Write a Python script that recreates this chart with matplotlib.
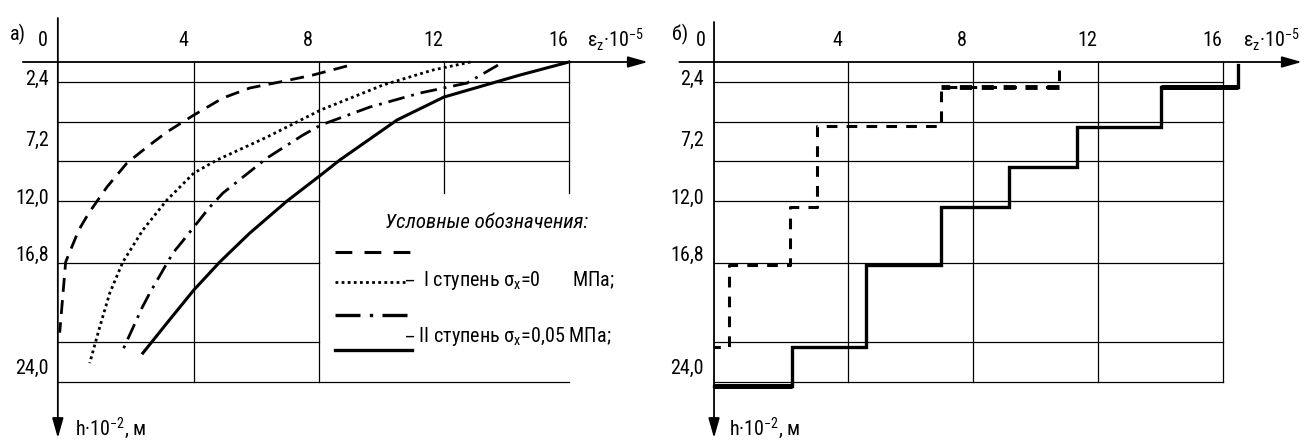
import matplotlib
matplotlib.use('Agg')
import matplotlib.pyplot as plt
from matplotlib import font_manager

# шрифт: узкий, если есть
_names = {f.name for f in font_manager.fontManager.ttflist}
_cond = {f.name for f in font_manager.fontManager.ttflist
         if f.stretch in ('condensed', 'semi-condensed', 550, 600, 625, 650, 700)}
FONT = 'DejaVu Sans'
for cand in ['Liberation Sans Narrow', 'Roboto Condensed', 'Open Sans Condensed',
             'Noto Sans Condensed', 'DejaVu Sans Condensed']:
    if cand in _names:
        FONT = cand
        break
plt.rcParams['font.family'] = [FONT, 'DejaVu Sans']
if FONT == 'DejaVu Sans' and 'DejaVu Sans' in _cond:
    plt.rcParams['font.stretch'] = 'condensed'
plt.rcParams['mathtext.default'] = 'regular'

# ---- данные ----
x_ticks = [0, 4, 8, 12, 16]
h_tick_pos = [1.3, 5.85, 10.2, 14.5, 23.0]
h_tick_lab = ['2,4', '7,2', '12,0', '16,8', '24,0']
h_grid = [1.5, 4.5, 7.45, 10.4, 15.05, 21.0, 24.0]

# а) кривые
h_dash = [0.3, 0.98, 1.5, 1.95, 2.7, 3.98, 5.25, 6.38, 7.58, 9.38, 11.33, 12.6, 15.0, 20.3]
e_dash = [8.9, 7.81, 6.75, 5.79, 4.93, 4.0, 3.14, 2.5, 1.86, 1.22, 0.64, 0.32, -0.1, -0.29]

h_dot = [0.0, 0.6, 1.73, 3.6, 5.63, 7.35, 8.33, 10.35, 12.6, 15.0, 17.33, 19.88, 22.58]
e_dot = [12.85, 11.65, 10.05, 8.06, 6.34, 4.74, 4.0, 3.14, 2.37, 1.73, 1.31, 0.99, 0.67]

h_dd = [0.23, 1.58, 2.33, 3.38, 4.73, 5.48, 7.2, 9.83, 10.88, 13.5, 14.33, 17.33, 18.45, 21.75]
e_dd = [13.73, 12.74, 11.23, 9.63, 8.06, 7.49, 6.34, 4.93, 4.51, 3.62, 3.33, 2.59, 2.34, 1.70]

h_sol = [0.0, 0.98, 2.63, 4.35, 7.35, 8.48, 10.43, 12.83, 15.0, 17.1, 19.58, 21.83]
e_sol = [16.0, 14.43, 12.0, 10.5, 8.67, 8.06, 6.98, 5.79, 4.83, 4.0, 3.14, 2.37]

# б) ступенчатые эпюры: границы слоёв и значения в слоях
hb_dash = [0.6, 1.88, 4.8, 10.88, 15.2, 21.4]
eb_dash = [10.77, 6.97, 3.01, 2.15, 0.20]
hb_sol = [0.22, 1.88, 4.88, 7.88, 10.88, 15.2, 21.4, 24.3]
eb_sol = [16.48, 14.02, 11.34, 9.14, 6.97, 4.57, 2.21]

legend_title = 'Условные обозначения:'
legend_1 = '–  I ступень σ$_x$=0       МПа;'
legend_2 = '– II ступень σ$_x$=0,05 МПа;'

FS = 14.5
FS_LEG = 14.5
LW_GRID = 0.9


def arrow(ax, x0, y0, x1, y1):
    ax.annotate('', xy=(x1, y1), xytext=(x0, y0),
                arrowprops=dict(arrowstyle='-|>,head_length=0.6,head_width=0.17',
                                color='black', lw=1.3, mutation_scale=20,
                                shrinkA=0, shrinkB=0))


def frame(ax, spine_x, axis_x0, label, label_x, left_lab_x, zero_x, eps_x, h_lab_x,
          spine_top, short_cols=None):
    ax.set_xlim(-2.2, 18.72)
    ax.set_ylim(28.35, -4.65)
    ax.axis('off')

    # оси со стрелками
    arrow(ax, axis_x0, 0, 18.52, 0)
    arrow(ax, spine_x, spine_top, spine_x, 28.2)

    # сетка
    for h in h_grid:
        x_end = 16
        if short_cols is not None and h in short_cols['rows']:
            x_end = 8
        ax.plot([spine_x, x_end], [h, h], color='black', lw=LW_GRID)
    for x in x_ticks[1:]:
        h_end = 24.0
        if short_cols is not None and x in short_cols['cols']:
            h_end = short_cols['stop']
        ax.plot([x, x], [0, h_end], color='black', lw=LW_GRID)

    # подписи
    ax.text(label_x, -2.1, label, fontsize=FS, ha='left', va='center')
    ax.text(zero_x, -1.65, '0', fontsize=FS, ha='center', va='center')
    for x in x_ticks[1:]:
        ax.text(x - 0.35, -1.65, str(x), fontsize=FS, ha='center', va='center')
    ax.text(eps_x, -1.7, 'ε$_z$·10$^{-5}$', fontsize=FS, ha='left', va='center')
    for p, t in zip(h_tick_pos, h_tick_lab):
        ax.text(left_lab_x, p, t, fontsize=FS, ha='right', va='center')
    ax.text(h_lab_x, 27.5, 'h·10$^{-2}$, м', fontsize=FS, ha='left', va='center')


def step_path(hb, eb, x_end):
    xs, ys = [], []
    for i, e in enumerate(eb):
        xs += [e, e]
        ys += [hb[i], hb[i + 1]]
    xs.append(x_end)
    ys.append(hb[-1])
    return xs, ys


fig = plt.figure(figsize=(13.08, 4.4), dpi=100)
ax1 = fig.add_axes([0, 0, 0.5, 1])
ax2 = fig.add_axes([0.5, 0, 0.5, 1])

# ---- а) ----
frame(ax1, -0.35, -1.47, 'а)', -1.89, -0.64, -0.83, 16.58, 0.19, -3.3,
      short_cols={'rows': [10.4, 15.05, 21.0], 'cols': [12, 16], 'stop': 9.8})

ax1.plot(e_dash, h_dash, color='black', lw=2.0, dashes=(5, 3))
ax1.plot(e_dot, h_dot, color='black', lw=2.0, dashes=(1, 1.2))
ax1.plot(e_dd, h_dd, color='black', lw=2.0, dashes=(6, 2.5, 1, 2.5))
ax1.plot(e_sol, h_sol, color='black', lw=2.2)

# условные обозначения
ax1.text(13.38, 12.0, legend_title, fontsize=FS_LEG + 0.5, style='italic',
         ha='center', va='center')
ax1.plot([8.51, 10.91], [14.25, 14.25], color='black', lw=2.2, dashes=(5.5, 4))
ax1.plot([8.51, 10.75], [16.5, 16.5], color='black', lw=2.0, dashes=(1, 1.2))
ax1.plot([8.51, 10.98], [18.98, 18.98], color='black', lw=2.4, dashes=(7.5, 2.8, 1, 2.8))
ax1.plot([8.51, 10.98], [21.6, 21.6], color='black', lw=2.4)
ax1.text(10.72, 16.35, legend_1, fontsize=FS_LEG, ha='left', va='center')
ax1.text(10.72, 20.6, legend_2, fontsize=FS_LEG, ha='left', va='center')

# ---- б) ----
frame(ax2, -0.28, -1.39, 'б)', -1.62, -0.6, -0.69, 16.64, 0.2, -3.0)

xs, ys = step_path(hb_dash, eb_dash, -0.28)
ax2.plot(xs, ys, color='black', lw=2.2, dashes=(3.5, 3))
# верхняя полка пунктира жирнее
ax2.plot([eb_dash[0], eb_dash[1]], [hb_dash[1], hb_dash[1]], color='black', lw=3.5,
         dashes=(2.5, 2))
xs, ys = step_path(hb_sol, eb_sol, -0.28)
ax2.plot(xs, ys, color='black', lw=2.4, solid_joinstyle='miter')
# крайние полки сплошной линии жирнее
ax2.plot([eb_sol[0], eb_sol[1]], [hb_sol[1], hb_sol[1]], color='black', lw=3.6,
         solid_capstyle='butt')
ax2.plot([eb_sol[-1], -0.28], [hb_sol[-1], hb_sol[-1]], color='black', lw=3.6,
         solid_capstyle='butt')

fig.savefig('out.png', dpi=100, facecolor='white')
